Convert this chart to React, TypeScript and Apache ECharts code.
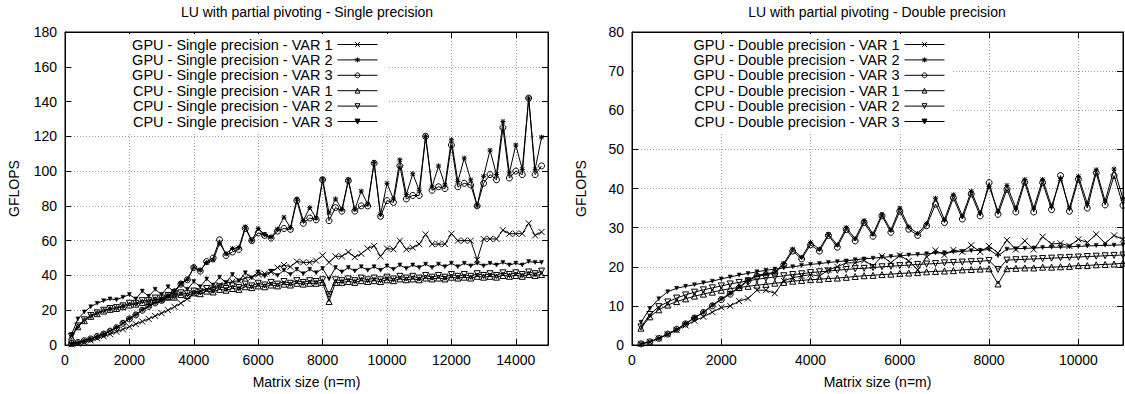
import React, { useEffect, useRef } from 'react';
import * as echarts from 'echarts';

const FONT = "'Liberation Sans', Arial, Helvetica, sans-serif";

// ---------- Single precision panel ----------
const sizesSingle = [
  200, 400, 600, 800, 1000, 1200, 1400, 1600, 1800, 2000,
  2200, 2400, 2600, 2800, 3000, 3200, 3400, 3600, 3800, 4000,
  4200, 4400, 4600, 4800, 5000, 5200, 5400, 5600, 5800, 6000,
  6200, 6400, 6600, 6800, 7000, 7200, 7400, 7600, 7800, 8000,
  8200, 8400, 8600, 8800, 9000, 9200, 9400, 9600, 9800, 10000,
  10200, 10400, 10600, 10800, 11000, 11200, 11400, 11600, 11800, 12000,
  12200, 12400, 12600, 12800, 13000, 13200, 13400, 13600, 13800, 14000,
  14200, 14400, 14600, 14800,
];
const gpuSingleVar1 = [
  0.3, 0.8, 1.6, 2.6, 3.8, 5.0, 6.2, 7.6, 9.0, 10.5,
  12.0, 13.5, 15.0, 16.7, 18.3, 20.0, 22.0, 24.0, 26.5, 29.5,
  31.0, 32.0, 33.0, 34.5, 35.5, 36.5, 37.0, 38.5, 39.0, 40.5,
  41.0, 42.0, 44.5, 46.0, 45.0, 48.0, 47.5, 47.5, 48.5, 51.5,
  47.5, 51.0, 51.0, 53.5, 50.5, 52.5, 55.5, 57.0, 51.0, 55.5,
  55.0, 60.0, 55.0, 56.0, 58.0, 63.6, 58.0, 58.0, 58.0, 64.0,
  60.0, 60.0, 60.0, 49.0, 61.0, 61.0, 61.0, 66.0, 64.0, 64.0,
  64.0, 70.0, 63.0, 65.0,
];
const gpuSingleVar2 = [
  0.8, 1.5, 2.5, 3.6, 5.0, 6.4, 8.1, 10.0, 12.7, 15.2,
  17.5, 20.3, 22.4, 24.4, 25.8, 28.0, 31.0, 35.6, 37.8, 44.8,
  43.0, 47.4, 48.8, 58.5, 52.5, 55.5, 56.0, 68.0, 60.0, 67.0,
  63.5, 62.0, 66.5, 73.5, 67.5, 84.0, 71.5, 79.0, 73.0, 95.5,
  76.0, 84.0, 78.0, 95.0, 78.0, 88.5, 81.0, 105.0, 75.0, 93.0,
  84.0, 106.5, 86.5, 98.5, 89.0, 120.0, 91.0, 103.0, 92.0, 118.0,
  94.0, 107.5, 95.0, 80.0, 97.0, 112.0, 98.0, 128.5, 99.0, 115.0,
  101.0, 142.0, 101.0, 119.5,
];
const gpuSingleVar3 = [
  0.8, 1.5, 2.5, 3.5, 4.9, 6.3, 8.0, 9.9, 12.5, 15.0,
  17.3, 20.0, 22.2, 24.2, 25.6, 27.7, 30.6, 35.0, 37.5, 44.5,
  42.5, 48.0, 50.0, 60.5, 51.5, 53.5, 55.0, 67.0, 60.0, 64.5,
  63.0, 61.5, 65.5, 67.0, 66.5, 83.0, 70.0, 73.0, 72.0, 95.0,
  71.5, 79.0, 77.0, 94.5, 77.0, 80.0, 80.0, 104.5, 74.0, 83.0,
  82.0, 103.0, 84.0, 86.0, 86.0, 120.0, 89.0, 91.0, 90.0, 115.0,
  91.0, 93.0, 92.0, 80.0, 93.0, 98.0, 95.0, 125.0, 96.0, 100.0,
  98.0, 142.0, 98.0, 103.0,
];
const cpuSingleVar1 = [
  4.5, 10.5, 14.0, 16.5, 18.0, 19.5, 20.5, 21.0, 22.0, 23.0,
  23.5, 24.5, 25.0, 26.0, 26.5, 27.5, 27.5, 29.0, 28.5, 30.0,
  29.5, 31.0, 30.5, 32.0, 31.5, 32.5, 32.0, 33.5, 33.0, 34.0,
  33.5, 34.5, 34.0, 35.0, 34.5, 35.5, 35.0, 35.5, 35.5, 36.0,
  25.0, 36.0, 36.0, 36.5, 36.0, 37.0, 36.5, 37.0, 36.5, 37.5,
  37.0, 38.0, 37.5, 38.0, 37.5, 38.5, 38.0, 38.5, 38.0, 39.0,
  38.5, 39.0, 38.5, 39.5, 39.0, 39.5, 39.0, 40.0, 39.5, 40.0,
  39.5, 40.5, 40.0, 40.5,
];
const cpuSingleVar2 = [
  5.0, 11.0, 14.5, 17.0, 18.5, 20.0, 21.0, 21.5, 22.5, 24.0,
  24.0, 25.5, 25.5, 27.0, 27.0, 28.5, 28.0, 30.0, 29.5, 31.0,
  30.5, 32.5, 31.5, 33.5, 32.5, 34.0, 33.0, 35.0, 34.0, 35.5,
  34.5, 36.0, 35.0, 36.5, 35.5, 37.0, 36.0, 37.0, 36.5, 37.5,
  29.0, 37.5, 37.0, 38.0, 37.0, 38.5, 37.5, 38.5, 37.5, 39.0,
  38.0, 39.5, 38.5, 39.5, 38.5, 40.0, 39.0, 40.0, 39.0, 40.5,
  39.5, 40.5, 39.5, 41.0, 40.0, 41.0, 40.0, 41.5, 40.5, 41.5,
  40.5, 42.0, 41.0, 42.5,
];
const cpuSingleVar3 = [
  6.0, 15.0, 19.0, 22.0, 24.0, 25.5, 26.5, 26.0, 27.5, 29.0,
  26.5, 31.0, 28.0, 32.0, 29.0, 33.5, 30.5, 35.0, 32.0, 36.5,
  33.5, 38.0, 34.5, 39.0, 36.0, 40.5, 37.0, 41.5, 38.5, 42.0,
  39.5, 42.5, 40.0, 43.0, 40.5, 43.5, 41.0, 43.5, 41.5, 44.0,
  38.0, 44.5, 42.0, 44.5, 42.5, 45.0, 43.0, 45.0, 43.0, 45.5,
  43.5, 46.0, 44.0, 46.0, 44.5, 46.5, 44.5, 46.5, 45.0, 47.0,
  45.0, 47.0, 45.5, 47.0, 45.5, 47.0, 46.0, 47.5, 46.0, 47.0,
  46.0, 48.0, 47.5, 47.5,
];

// ---------- Double precision panel ----------
const sizesDouble = [
  200, 400, 600, 800, 1000, 1200, 1400, 1600, 1800, 2000,
  2200, 2400, 2600, 2800, 3000, 3200, 3400, 3600, 3800, 4000,
  4200, 4400, 4600, 4800, 5000, 5200, 5400, 5600, 5800, 6000,
  6200, 6400, 6600, 6800, 7000, 7200, 7400, 7600, 7800, 8000,
  8200, 8400, 8600, 8800, 9000, 9200, 9400, 9600, 9800, 10000,
  10200, 10400, 10600, 10800, 11000,
];
const gpuDoubleVar1 = [
  0.3, 0.8, 1.7, 2.7, 3.8, 5.0, 6.2, 7.2, 8.4, 9.6,
  10.0, 11.2, 11.9, 14.0, 14.0, 13.2, 16.4, 17.2, 17.6, 18.0,
  17.6, 19.2, 20.0, 21.0, 21.0, 21.6, 20.2, 22.7, 21.0, 22.9,
  21.5, 19.2, 22.5, 24.2, 23.0, 24.3, 23.8, 25.5, 23.8, 25.3,
  23.5, 26.8, 24.4, 26.6, 24.4, 27.7, 25.8, 26.0, 25.3, 27.0,
  26.2, 28.3, 26.0, 28.0, 27.0,
];
const gpuDoubleVar2 = [
  0.3, 0.8, 1.7, 2.8, 4.0, 5.5, 7.0, 8.4, 10.2, 11.8,
  13.2, 14.8, 16.6, 17.8, 18.2, 18.6, 20.8, 24.5, 22.4, 26.2,
  24.5, 28.3, 25.6, 30.0, 27.2, 31.8, 28.4, 33.4, 29.4, 35.0,
  30.2, 28.5, 31.0, 37.5, 32.0, 38.4, 33.0, 39.3, 33.8, 40.5,
  34.2, 40.8, 35.0, 42.3, 35.0, 42.3, 35.5, 42.5, 35.0, 43.1,
  36.2, 44.8, 36.8, 45.0, 37.4,
];
const gpuDoubleVar3 = [
  0.3, 0.8, 1.7, 2.8, 4.0, 5.4, 6.9, 8.3, 10.0, 11.6,
  13.0, 14.6, 16.4, 17.6, 18.0, 18.4, 20.5, 24.0, 22.0, 25.6,
  24.0, 28.0, 25.0, 29.5, 26.6, 31.3, 27.8, 33.0, 28.8, 34.2,
  29.6, 28.0, 30.5, 36.0, 31.3, 37.6, 32.2, 38.6, 33.0, 41.5,
  33.4, 39.8, 34.0, 41.6, 34.0, 41.5, 34.6, 43.3, 34.2, 42.4,
  35.0, 44.0, 35.8, 43.3, 35.7,
];
const cpuDoubleVar1 = [
  4.3, 7.2, 9.0, 10.2, 11.1, 11.8, 12.5, 13.0, 13.5, 14.0,
  14.4, 14.7, 15.0, 15.3, 15.5, 15.8, 16.0, 16.3, 16.5, 16.7,
  16.8, 17.0, 17.1, 17.3, 17.5, 17.7, 17.8, 18.0, 18.1, 18.3,
  18.4, 18.5, 18.7, 18.8, 18.9, 19.0, 19.2, 19.3, 19.4, 19.5,
  15.6, 19.5, 19.6, 19.7, 19.7, 19.9, 19.9, 20.0, 20.1, 20.3,
  20.3, 20.5, 20.6, 20.7, 20.9,
];
const cpuDoubleVar2 = [
  4.6, 7.8, 9.8, 11.0, 12.0, 12.8, 13.5, 14.1, 14.6, 15.1,
  15.6, 16.0, 16.4, 16.8, 17.1, 17.4, 17.7, 18.0, 18.2, 18.5,
  18.7, 18.9, 19.1, 19.3, 19.5, 19.6, 19.8, 20.0, 20.1, 20.3,
  20.4, 20.6, 20.7, 20.8, 21.0, 21.1, 21.2, 21.3, 21.4, 21.6,
  19.3, 21.7, 21.8, 21.9, 22.0, 22.1, 22.2, 22.3, 22.4, 22.5,
  22.6, 22.7, 22.8, 22.9, 23.0,
];
const cpuDoubleVar3 = [
  5.8, 9.3, 11.8, 13.6, 14.5, 15.0, 15.4, 15.9, 16.3, 16.9,
  17.4, 17.9, 18.3, 18.7, 19.1, 19.4, 19.7, 20.0, 20.3, 20.6,
  20.8, 21.1, 21.3, 21.5, 21.8, 22.0, 22.2, 22.4, 22.6, 22.8,
  23.0, 23.1, 23.3, 23.5, 23.6, 23.8, 23.9, 24.1, 24.2, 24.4,
  22.8, 24.5, 24.6, 24.7, 24.8, 24.9, 25.0, 25.0, 25.1, 25.2,
  25.3, 25.4, 25.5, 25.5, 25.6,
];

const titles = ['LU with partial pivoting - Single precision', 'LU with partial pivoting - Double precision'];
const seriesNamesSingle = [
  'GPU - Single precision - VAR 1', 'GPU - Single precision - VAR 2', 'GPU - Single precision - VAR 3',
  'CPU - Single precision - VAR 1', 'CPU - Single precision - VAR 2', 'CPU - Single precision - VAR 3',
];
const seriesNamesDouble = [
  'GPU - Double precision - VAR 1', 'GPU - Double precision - VAR 2', 'GPU - Double precision - VAR 3',
  'CPU - Double precision - VAR 1', 'CPU - Double precision - VAR 2', 'CPU - Double precision - VAR 3',
];

const markerStyles: any[] = [
  { symbol: 'path://M0,0L10,10M10,0L0,10', symbolSize: 6, symbolRotate: 0, itemStyle: { color: 'none', borderColor: '#000', borderWidth: 1 } },
  { symbol: 'path://M0,0L10,10M10,0L0,10M5,-1L5,11M-1,5L11,5', symbolSize: 5, symbolRotate: 0, itemStyle: { color: 'none', borderColor: '#000', borderWidth: 1 } },
  { symbol: 'circle', symbolSize: 6, symbolRotate: 0, itemStyle: { color: 'none', borderColor: '#000', borderWidth: 1 } },
  { symbol: 'triangle', symbolSize: 6, symbolRotate: 0, itemStyle: { color: 'none', borderColor: '#000', borderWidth: 1 } },
  { symbol: 'triangle', symbolSize: 6, symbolRotate: 180, itemStyle: { color: 'none', borderColor: '#000', borderWidth: 1 } },
  { symbol: 'triangle', symbolSize: 4, symbolRotate: 180, itemStyle: { color: '#000', borderColor: '#000', borderWidth: 0.5 } },
];

const textBase = { color: '#000', fontSize: 14, fontFamily: FONT };

function buildOption() {
  const panels = [
    { xs: sizesSingle, ys: [gpuSingleVar1, gpuSingleVar2, gpuSingleVar3, cpuSingleVar1, cpuSingleVar2, cpuSingleVar3], names: seriesNamesSingle, xMax: 15000, yMax: 180, yInt: 20 },
    { xs: sizesDouble, ys: [gpuDoubleVar1, gpuDoubleVar2, gpuDoubleVar3, cpuDoubleVar1, cpuDoubleVar2, cpuDoubleVar3], names: seriesNamesDouble, xMax: 11000, yMax: 80, yInt: 10 },
  ];
  const grids = [
    { left: 65, right: 577, top: 32, bottom: 48 },
    { left: 632, right: 2, top: 32, bottom: 48 },
  ].map((g) => ({ ...g, show: true, borderColor: '#000', borderWidth: 1, backgroundColor: 'transparent' }));

  const xAxis: any[] = [];
  const yAxis: any[] = [];
  const series: any[] = [];
  const split = { show: true, lineStyle: { color: '#9a9a9a', width: 1, type: [1, 2] } };
  const plain = (v: number) => String(v);
  panels.forEach((p, gi) => {
    xAxis.push({
      type: 'value', gridIndex: gi, min: 0, max: p.xMax, interval: 2000, position: 'bottom',
      name: 'Matrix size (n=m)', nameLocation: 'middle', nameGap: 30, nameTextStyle: textBase,
      axisLine: { show: true, onZero: false, lineStyle: { color: '#000', width: 1 } },
      axisTick: { show: true, inside: true, length: 6, lineStyle: { color: '#000' } },
      axisLabel: { ...textBase, margin: 8, showMaxLabel: false, formatter: plain },
      splitLine: split,
    });
    xAxis.push({
      type: 'value', gridIndex: gi, min: 0, max: p.xMax, interval: 2000, position: 'top',
      axisLine: { show: true, onZero: false, lineStyle: { color: '#000', width: 1 } },
      axisTick: { show: true, inside: true, length: 6, lineStyle: { color: '#000' } },
      axisLabel: { show: false }, splitLine: { show: false },
    });
    yAxis.push({
      type: 'value', gridIndex: gi, min: 0, max: p.yMax, interval: p.yInt, position: 'left',
      name: 'GFLOPS', nameLocation: 'middle', nameRotate: 90, nameGap: 44, nameTextStyle: textBase,
      axisLine: { show: true, onZero: false, lineStyle: { color: '#000', width: 1 } },
      axisTick: { show: true, inside: true, length: 6, lineStyle: { color: '#000' } },
      axisLabel: { ...textBase, margin: 8, formatter: plain },
      splitLine: split,
    });
    yAxis.push({
      type: 'value', gridIndex: gi, min: 0, max: p.yMax, interval: p.yInt, position: 'right',
      axisLine: { show: true, onZero: false, lineStyle: { color: '#000', width: 1 } },
      axisTick: { show: true, inside: true, length: 6, lineStyle: { color: '#000' } },
      axisLabel: { show: false }, splitLine: { show: false },
    });
    p.ys.forEach((ys, si) => {
      const m = markerStyles[si];
      series.push({
        type: 'line', name: p.names[si], xAxisIndex: gi * 2, yAxisIndex: gi * 2,
        data: p.xs.map((x, i) => [x, ys[i]]),
        symbol: m.symbol, symbolSize: m.symbolSize, symbolRotate: m.symbolRotate,
        itemStyle: m.itemStyle,
        lineStyle: { color: '#000', width: 1 },
        silent: true, emphasis: { disabled: true }, z: 2 + si,
      });
    });
  });

  const legendBase = {
    orient: 'vertical', align: 'right', top: 34, itemWidth: 40, itemHeight: 6, itemGap: 0.4,
    selectedMode: false, backgroundColor: '#fff', borderWidth: 0,
    textStyle: { color: '#000', fontSize: 14.5, fontFamily: FONT, lineHeight: 14 },
    lineStyle: { width: 1 },
    itemStyle: { borderWidth: 1 },
    inactiveColor: '#000',
  };

  return {
    animation: false,
    backgroundColor: '#fff',
    grid: grids,
    xAxis, yAxis, series,
    legend: [
      { ...legendBase, data: seriesNamesSingle, right: 737, padding: [3, 10, 3, 60] },
      { ...legendBase, data: seriesNamesDouble, right: 172, padding: [3, 8, 3, 60] },
    ],
    graphic: [
      { type: 'text', x: 307, y: 12, style: { text: titles[0], align: 'center', verticalAlign: 'middle', fill: '#000', font: `14px ${FONT}` } },
      { type: 'text', x: 877, y: 12, style: { text: titles[1], align: 'center', verticalAlign: 'middle', fill: '#000', font: `14px ${FONT}` } },
    ],
  };
}

export default function App() {
  const ref = useRef<HTMLDivElement>(null);
  useEffect(() => {
    if (!ref.current) return;
    const chart = echarts.init(ref.current, null, { renderer: 'svg' });
    chart.setOption(buildOption() as any);
    return () => chart.dispose();
  }, []);
  return (
    <div
      ref={ref}
      style={{ position: 'fixed', left: 0, top: 0, width: 1125, height: 394, background: '#fff' }}
    />
  );
}
